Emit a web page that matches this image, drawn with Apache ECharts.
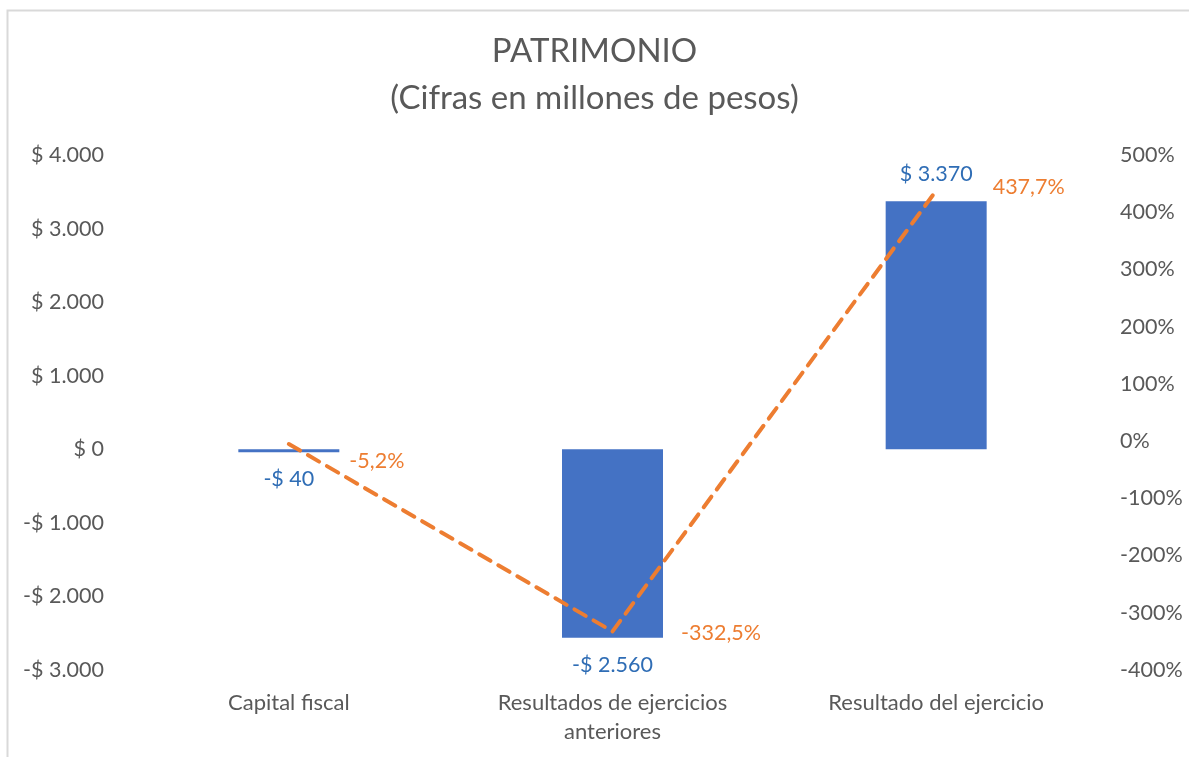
<!DOCTYPE html>
<html>
<head>
<meta charset="utf-8">
<script src="https://cdn.jsdelivr.net/npm/echarts@6/dist/echarts.min.js"></script>
<style>
  html, body { margin: 0; padding: 0; background: #fff; }
  #chart { width: 1189px; height: 757px; }
</style>
</head>
<body>
<div id="chart"></div>
<script>
// datos del gráfico
var categorias = ['Capital fiscal', 'Resultados de ejercicios\nanteriores', 'Resultado del ejercicio']
var valores = [-40, -2560, 3370]
var porcentajes = [-5.2, -332.5, 437.7]

// desplazamiento de etiquetas de la línea (estilo, no datos)
var offsetsPct = [[0, 17], [8, 2], [-4, -4]]

var gris = '#595959'
var azul = '#4472C4'
var naranja = '#ED7D31'
var fuente = 'Lato'

function pesos(v) {
  var s = Math.abs(v).toFixed(0).replace(/\B(?=(\d{3})+(?!\d))/g, '.')
  return (v < 0 ? '-$ ' : '$ ') + s
}

function pct(v) {
  return v.toFixed(1).replace('.', ',') + '%'
}

var chart = echarts.init(document.getElementById('chart'))

chart.setOption({
  animation: false,
  textStyle: { fontFamily: fuente },
  graphic: [{
    type: 'rect',
    shape: { x: 7.5, y: 10.5, width: 1300, height: 900 },
    style: { fill: 'none', stroke: '#d9d9d9', lineWidth: 2 },
    silent: true
  }],
  title: {
    text: 'PATRIMONIO\n(Cifras en millones de pesos)',
    left: 'center',
    top: 23,
    textStyle: { color: gris, fontSize: 33, fontWeight: 'normal', lineHeight: 47, fontFamily: fuente }
  },
  grid: { left: 127, right: 91, top: 155, bottom: 87, containLabel: false },
  xAxis: {
    type: 'category',
    data: categorias,
    axisLine: { show: false },
    axisTick: { show: false },
    axisLabel: { color: gris, fontSize: 22, lineHeight: 29, margin: 18, interval: 0 }
  },
  yAxis: [{
    type: 'value',
    min: -3000, max: 4000, interval: 1000,
    splitLine: { show: false },
    axisLine: { show: false },
    axisTick: { show: false },
    axisLabel: { color: gris, fontSize: 21.5, margin: 23, formatter: pesos }
  }, {
    type: 'value',
    min: -400, max: 500, interval: 100,
    splitLine: { show: false },
    axisLine: { show: false },
    axisTick: { show: false },
    axisLabel: { color: gris, fontSize: 21.5, margin: 22, formatter: function (v) { return v + '%' } }
  }],
  series: [{
    type: 'bar',
    yAxisIndex: 0,
    barWidth: 101,
    itemStyle: { color: azul },
    data: valores.map(function (v) {
      return {
        value: v,
        label: { position: v < 0 ? 'bottom' : 'top' }
      }
    }),
    label: {
      show: true,
      distance: 16,
      color: '#2F6DB5',
      fontSize: 21.5,
      formatter: function (p) { return pesos(p.value) }
    }
  }, {
    type: 'line',
    yAxisIndex: 1,
    symbol: 'circle',
    symbolSize: 1,
    showSymbol: true,
    itemStyle: { color: 'rgba(0,0,0,0)' },
    lineStyle: { color: naranja, width: 4, type: [13, 9], cap: 'round' },
    data: porcentajes.map(function (v, i) {
      return { value: v, label: { offset: offsetsPct[i] } }
    }),
    label: {
      show: true,
      position: 'right',
      distance: 60,
      color: naranja,
      fontSize: 21.5,
      formatter: function (p) { return pct(p.value) }
    }
  }]
})
</script>
</body>
</html>
